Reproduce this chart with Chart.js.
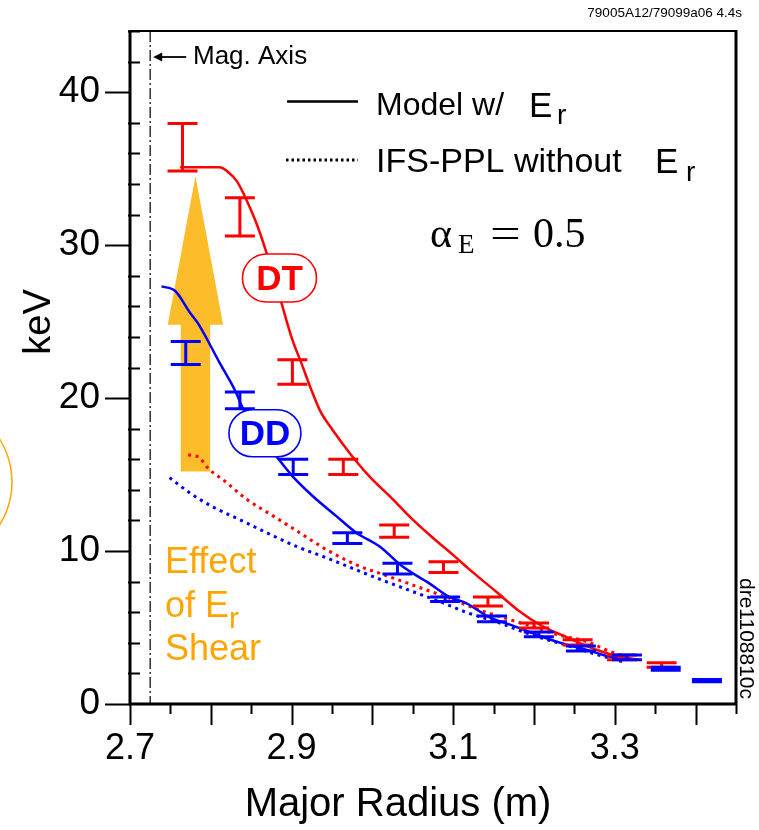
<!DOCTYPE html>
<html>
<head>
<meta charset="utf-8">
<title>Perfis de temperatura ionica</title>
<script src="https://cdn.jsdelivr.net/npm/chart.js@4.4.1/dist/chart.umd.min.js"></script>
<style>
  html, body { margin: 0; padding: 0; background: #fff; }
  canvas { display: block; }
</style>
</head>
<body>
<canvas id="graficoTi" width="759" height="830"></canvas>
<script>
// Modelo com Er (linhas cheias)
const rDtModel = [2.762, 2.790, 2.811, 2.821, 2.832, 2.842, 2.856, 2.869, 2.887, 2.901, 2.912, 2.924, 2.935, 2.951, 2.972, 2.996, 3.025, 3.049, 3.074, 3.103, 3.120, 3.153, 3.181, 3.210, 3.235, 3.256, 3.280, 3.305, 3.330];
const tDtModel = [35.1, 35.1, 35.1, 34.8, 34.2, 33.2, 31.5, 29.5, 26.3, 23.8, 22.3, 20.6, 19.2, 17.9, 16.4, 14.9, 13.4, 12.1, 10.9, 9.6, 8.8, 7.35, 6.1, 5.1, 4.5, 4.0, 3.5, 3.1, 2.9];
const rDdModel = [2.739, 2.756, 2.774, 2.784, 2.811, 2.830, 2.840, 2.860, 2.881, 2.901, 2.926, 2.955, 2.980, 3.009, 3.037, 3.070, 3.095, 3.116, 3.144, 3.177, 3.210, 3.239, 3.268, 3.293, 3.313];
const tDdModel = [27.3, 27.0, 25.6, 24.9, 22.3, 20.5, 19.3, 17.6, 16.2, 14.9, 13.6, 12.3, 11.2, 10.3, 9.0, 7.9, 7.0, 6.6, 5.7, 5.06, 4.4, 3.9, 3.5, 3.1, 2.9];

// IFS-PPL sem Er (pontilhado)
const rDtIfs = [2.772, 2.786, 2.796, 2.819, 2.844, 2.877, 2.910, 2.943, 2.980, 3.017, 3.054, 3.091, 3.132, 3.165, 3.198, 3.231, 3.264, 3.296, 3.321];
const tDtIfs = [16.3, 16.1, 15.45, 14.5, 13.4, 12.3, 11.2, 10.1, 9.1, 8.4, 7.7, 7.0, 6.15, 5.6, 5.06, 4.5, 4.1, 3.4, 3.0];
const rDdIfs = [2.749, 2.774, 2.802, 2.836, 2.869, 2.906, 2.943, 2.980, 3.017, 3.054, 3.083, 3.116, 3.157, 3.198, 3.239, 3.280, 3.309];
const tDdIfs = [14.8, 13.8, 12.9, 12.05, 11.2, 10.3, 9.56, 8.77, 8.0, 7.27, 6.7, 6.0, 5.3, 4.5, 3.86, 3.2, 2.77];

// Medidas com barra de erro (min / max)
const rDtMeas = [2.765, 2.836, 2.901, 2.964, 3.027, 3.088, 3.143, 3.200, 3.254, 3.309, 3.358];
const tDtLo = [34.85, 30.6, 20.9, 15.0, 10.9, 8.6, 6.4, 4.97, 3.86, 2.9, 2.4];
const tDtHi = [37.95, 33.1, 22.5, 16.0, 11.7, 9.3, 7.0, 5.3, 4.2, 3.2, 2.7];
const rDdMeas = [2.769, 2.836, 2.902, 2.969, 3.031, 3.090, 3.148, 3.206, 3.258, 3.315, 3.363, 3.414];
const tDdLo = [22.2, 19.3, 15.0, 10.5, 8.5, 6.7, 5.37, 4.4, 3.47, 2.9, 2.2, 1.45];
const tDdHi = [23.7, 20.4, 16.0, 11.2, 9.2, 7.0, 5.76, 4.7, 3.8, 3.2, 2.4, 1.6];

// Eixos
const xTicks = [2.7, 2.9, 3.1, 3.3];
const yTicks = [0, 10, 20, 30, 40];
const magAxisR = 2.725;

// Seta "Effect of Er Shear" e rótulos DT / DD
const setaR = 2.781, setaFundo = 15.2, setaBase = 24.8, setaTopo = 34.5;
const rotuloDT = { r: 2.885, t: 27.85 };
const rotuloDD = { r: 2.867, t: 17.7 };

const VERMELHO = '#ff0000';
const AZUL = '#0000ff';
const LARANJA = '#ffa500';
const SANS = "'Liberation Sans', Arial, sans-serif";
const SERIF = "'Liberation Serif', 'Times New Roman', serif";

const xy = (xs, ys) => xs.map((r, i) => ({ x: r, y: ys[i] }));

function pill(ctx, cx, cy, w, h, cor, texto) {
    ctx.save();
    ctx.beginPath();
    ctx.roundRect(cx - w / 2, cy - h / 2, w, h, h / 2);
    ctx.fillStyle = '#fff';
    ctx.fill();
    ctx.lineWidth = 1.6;
    ctx.strokeStyle = cor;
    ctx.stroke();
    ctx.fillStyle = cor;
    ctx.font = 'bold 35px ' + SANS;
    ctx.textAlign = 'center';
    ctx.textBaseline = 'middle';
    ctx.fillText(texto, cx, cy + 2);
    ctx.restore();
}

function desenhaBarras(ctx, x, y, rs, lo, hi, cor) {
    ctx.save();
    ctx.strokeStyle = cor;
    ctx.lineWidth = 3;
    rs.forEach((r, i) => {
        const px = x.getPixelForValue(r);
        const p1 = y.getPixelForValue(lo[i]);
        const p2 = y.getPixelForValue(hi[i]);
        ctx.beginPath();
        ctx.moveTo(px, p1); ctx.lineTo(px, p2);
        ctx.moveTo(px - 15, p1); ctx.lineTo(px + 15, p1);
        ctx.moveTo(px - 15, p2); ctx.lineTo(px + 15, p2);
        ctx.stroke();
    });
    ctx.restore();
}

// Tudo que não é curva: moldura, ticks, seta, legenda e anotações
const extras = {
    id: 'extras',
    beforeDatasetsDraw(chart) {
        const { ctx, chartArea: a, scales: { x, y } } = chart;
        ctx.save();
        // linha do eixo magnético
        const xm = x.getPixelForValue(magAxisR);
        ctx.strokeStyle = '#333';
        ctx.lineWidth = 1.5;
        ctx.setLineDash([11, 3, 2, 3]);
        ctx.beginPath();
        ctx.moveTo(xm, a.top); ctx.lineTo(xm, a.bottom);
        ctx.stroke();
        ctx.setLineDash([]);

        // seta laranja
        const ax = x.getPixelForValue(setaR);
        const yb = y.getPixelForValue(setaFundo);
        const yh = y.getPixelForValue(setaBase);
        const yt = y.getPixelForValue(setaTopo);
        ctx.fillStyle = '#fdbc2a';
        ctx.beginPath();
        ctx.moveTo(ax - 14.7, yb);
        ctx.lineTo(ax - 14.7, yh);
        ctx.lineTo(ax - 27.7, yh);
        ctx.lineTo(ax, yt);
        ctx.lineTo(ax + 27.7, yh);
        ctx.lineTo(ax + 14.7, yh);
        ctx.lineTo(ax + 14.7, yb);
        ctx.closePath();
        ctx.fill();
        ctx.restore();
    },
    afterDatasetsDraw(chart) {
        const { ctx, scales: { x, y } } = chart;
        desenhaBarras(ctx, x, y, rDtMeas, tDtLo, tDtHi, VERMELHO);
        desenhaBarras(ctx, x, y, rDdMeas, tDdLo, tDdHi, AZUL);
        pill(ctx, x.getPixelForValue(rotuloDT.r), y.getPixelForValue(rotuloDT.t), 74, 48, VERMELHO, 'DT');
        pill(ctx, x.getPixelForValue(rotuloDD.r), y.getPixelForValue(rotuloDD.t), 72, 47, AZUL, 'DD');
    },
    afterDraw(chart) {
        const { ctx, chartArea: a, scales: { x, y } } = chart;
        ctx.save();
        ctx.strokeStyle = '#000';

        // moldura
        ctx.lineWidth = 3;
        ctx.beginPath();
        ctx.moveTo(a.left, a.top - 1); ctx.lineTo(a.left, a.bottom);
        ctx.lineTo(a.right, a.bottom);
        ctx.moveTo(a.right, a.top - 1); ctx.lineTo(a.right, a.bottom);
        ctx.stroke();
        ctx.lineWidth = 2;
        ctx.beginPath();
        ctx.moveTo(a.left, a.top); ctx.lineTo(a.right, a.top);
        ctx.stroke();

        // ticks do eixo y: principais para fora, secundários para dentro
        ctx.lineWidth = 2;
        ctx.beginPath();
        for (let v = 0; v <= 44; v += 2) {
            const py = Math.round(y.getPixelForValue(v)) + 0.5;
            if (v % 10 === 0) {
                ctx.moveTo(a.left - 25, py); ctx.lineTo(a.left, py);
            } else {
                ctx.moveTo(a.left - 2, py); ctx.lineTo(a.left + 10, py);
            }
        }
        // ticks do eixo x, a cada 0.05
        for (let k = 0; k <= 15; k++) {
            const px = Math.round(x.getPixelForValue(2.7 + 0.05 * k)) + 0.5;
            ctx.moveTo(px, a.bottom);
            ctx.lineTo(px, a.bottom + (k % 2 === 0 ? 21 : 10));
        }
        ctx.stroke();

        // títulos dos eixos
        ctx.fillStyle = '#000';
        ctx.font = '40px ' + SANS;
        ctx.textAlign = 'center';
        ctx.textBaseline = 'middle';
        ctx.fillText('Major Radius (m)', 398, 805);
        ctx.save();
        ctx.translate(40, 322);
        ctx.rotate(-Math.PI / 2);
        ctx.font = '38px ' + SANS;
        ctx.fillText('keV', 0, 0);
        ctx.restore();
        ctx.textAlign = 'left';

        // "<- Mag. Axis"
        const xm = x.getPixelForValue(magAxisR);
        ctx.lineWidth = 1.8;
        ctx.beginPath();
        ctx.moveTo(xm + 36, 57); ctx.lineTo(xm + 8, 57);
        ctx.stroke();
        ctx.beginPath();
        ctx.moveTo(xm + 3, 57); ctx.lineTo(xm + 12, 52.5); ctx.lineTo(xm + 12, 61.5);
        ctx.closePath();
        ctx.fill();
        ctx.font = '26px ' + SANS;
        ctx.fillText('Mag. Axis', 193, 57);

        // identificação do disparo
        ctx.font = '13.5px ' + SANS;
        ctx.textAlign = 'right';
        ctx.textBaseline = 'alphabetic';
        ctx.fillText('79005A12/79099a06 4.4s', 742, 17);
        ctx.textAlign = 'left';

        // legenda
        ctx.lineWidth = 2.5;
        ctx.beginPath();
        ctx.moveTo(287, 101.5); ctx.lineTo(358, 101.5);
        ctx.stroke();
        ctx.lineWidth = 3;
        ctx.setLineDash([2.5, 3]);
        ctx.beginPath();
        ctx.moveTo(286, 160); ctx.lineTo(358, 160);
        ctx.stroke();
        ctx.setLineDash([]);
        ctx.font = '32px ' + SANS;
        ctx.fillText('Model w/', 376, 115);
        ctx.font = '35px ' + SANS;
        ctx.fillText('E', 529, 117);
        ctx.font = '28px ' + SANS;
        ctx.fillText('r', 557, 124);
        ctx.font = '34px ' + SANS;
        ctx.fillText('IFS-PPL without', 376, 172);
        ctx.font = '35px ' + SANS;
        ctx.fillText('E', 655, 173);
        ctx.font = '28px ' + SANS;
        ctx.fillText('r', 686, 181);

        // alpha_E = 0.5
        ctx.font = '42px ' + SERIF;
        ctx.fillText('\u03b1', 430, 247);
        ctx.font = '27px ' + SERIF;
        ctx.fillText('E', 458, 253);
        ctx.font = '42px ' + SERIF;
        ctx.save();
        ctx.translate(490, 247);
        ctx.scale(1.3, 1);
        ctx.fillText('=', 0, 0);
        ctx.restore();
        ctx.fillText('0.5', 533, 247);

        // texto laranja
        ctx.fillStyle = LARANJA;
        ctx.font = '36px ' + SANS;
        ctx.fillText('Effect', 165, 573);
        ctx.fillText('of E', 165, 617);
        ctx.fillText('Shear', 165, 660);
        ctx.font = '30px ' + SANS;
        ctx.fillText('r', 229, 628);

        // arco laranja na margem esquerda
        ctx.strokeStyle = LARANJA;
        ctx.lineWidth = 1.5;
        ctx.beginPath();
        ctx.arc(-69, 482, 81, 0, Math.PI * 2);
        ctx.stroke();

        // código da figura, vertical
        ctx.fillStyle = '#000';
        ctx.font = '21px ' + SANS;
        ctx.translate(740, 578);
        ctx.rotate(Math.PI / 2);
        ctx.fillText('dre1108810c', 0, 0);
        ctx.restore();
    }
};

Chart.defaults.font.family = SANS;
Chart.defaults.color = '#000';

new Chart(document.getElementById('graficoTi'), {
    type: 'line',
    data: {
        datasets: [
            { label: 'DT modelo', data: xy(rDtModel, tDtModel), borderColor: VERMELHO, borderWidth: 2.5 },
            { label: 'DD modelo', data: xy(rDdModel, tDdModel), borderColor: AZUL, borderWidth: 2.5 },
            { label: 'DT IFS-PPL', data: xy(rDtIfs, tDtIfs), borderColor: VERMELHO, borderWidth: 3, borderDash: [3, 4.5] },
            { label: 'DD IFS-PPL', data: xy(rDdIfs, tDdIfs), borderColor: AZUL, borderWidth: 3, borderDash: [3, 4.5] }
        ]
    },
    options: {
        responsive: false,
        animation: false,
        layout: { padding: { top: 31, right: 23, left: 0, bottom: 0 } },
        elements: {
            point: { radius: 0 },
            line: { cubicInterpolationMode: 'monotone', fill: false, borderCapStyle: 'butt' }
        },
        plugins: { legend: { display: false }, tooltip: { enabled: false } },
        scales: {
            x: {
                type: 'linear',
                min: 2.7,
                max: 3.45,
                afterFit: s => { s.height = 126; s.paddingLeft = 0; s.paddingRight = 0; },
                afterBuildTicks: s => { s.ticks = xTicks.map(v => ({ value: v })); },
                grid: { display: false, drawTicks: false },
                border: { display: false },
                ticks: {
                    padding: 23,
                    maxRotation: 0,
                    autoSkip: false,
                    font: { size: 36 },
                    callback: v => v.toFixed(1)
                }
            },
            y: {
                min: 0,
                max: 44,
                afterFit: s => { s.width = 130; s.paddingTop = 0; s.paddingBottom = 0; },
                afterBuildTicks: s => { s.ticks = yTicks.map(v => ({ value: v })); },
                grid: { display: false, drawTicks: false },
                border: { display: false },
                ticks: { padding: 30, font: { size: 37 } }
            }
        }
    },
    plugins: [extras]
});
</script>
</body>
</html>
